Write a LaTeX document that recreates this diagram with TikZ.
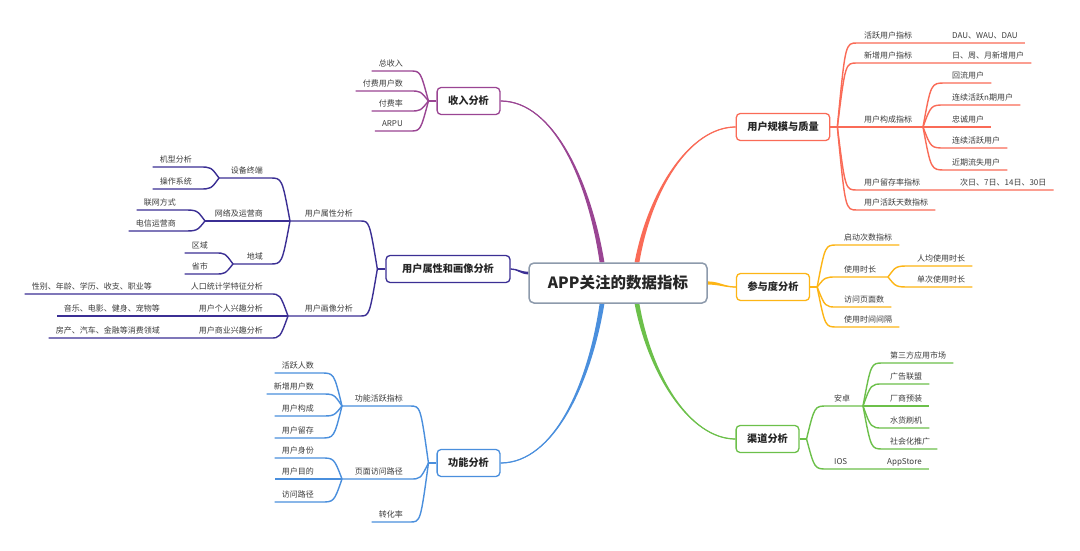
\documentclass[tikz,border=0pt]{standalone}
\usepackage{fontspec}
\setmainfont{Noto Sans CJK SC}
\usetikzlibrary{calc}
\definecolor{cR}{HTML}{FA6B57}
\definecolor{cO}{HTML}{FDB515}
\definecolor{cG}{HTML}{6CC04A}
\definecolor{cP}{HTML}{9A4593}
\definecolor{cI}{HTML}{3B2F94}
\definecolor{cB}{HTML}{4A8FDD}
\definecolor{cC}{HTML}{8D9AAC}
\definecolor{labc}{HTML}{3C3C3C}
\definecolor{topc}{HTML}{262626}
\pgfdeclarelayer{bg}
\pgfdeclarelayer{paper}
\pgfsetlayers{paper,bg,main}
\newcommand{\rlink}[4]{\draw[#1] (#2) .. controls ($(#2|-#3.south west)+(8,0)$) .. (#3.south west) -- (#4);}
\newcommand{\llink}[4]{\draw[#1] (#2) .. controls ($(#2|-#3.south east)+(-8,0)$) .. (#3.south east) -- (#4);}
% color, start, control1, control2, end, sign
\newcommand{\vtaper}[6]{%
  \fill[#1] ($(#2)+(-2.4,0)$) .. controls ($(#3)+(-1.7,0)$) and ($(#4)+(0,-0.6*#6)$) .. ($(#5)+(0,-0.6*#6)$)
    -- ($(#5)+(0,0.6*#6)$) .. controls ($(#4)+(0,0.6*#6)$) and ($(#3)+(1.7,0)$) .. ($(#2)+(2.4,0)$) -- cycle;
  \draw[#1, line width=0.8] (#2) .. controls (#3) and (#4) .. (#5);}
\begin{document}
\begin{tikzpicture}[x=1pt,y=-1pt,
  lab/.style={inner xsep=7, inner ysep=3, text height=6.5, text depth=1.5, font=\fontsize{8}{9}\selectfont, text=labc},
  rl/.style={lab, anchor=south west},
  ll/.style={lab, anchor=south east},
  topic/.style={draw, rounded corners=4, line width=1.3, fill=white, inner xsep=11, inner ysep=0, minimum height=27, font=\bfseries\fontsize{10.2}{12}\selectfont, text=topc},
  br/.style={line width=1.4}]
\begin{pgfonlayer}{paper}
\fill[white] (0,0) rectangle (1080,551);
\end{pgfonlayer}
\useasboundingbox (0,0) rectangle (1080,551);

% central and main topics
\node[draw=cC, line width=1.5, rounded corners=5, fill=white, minimum width=178, minimum height=40, font=\bfseries\fontsize{15.5}{18}\selectfont, text=topc] (C) at (618,283) {APP关注的数据指标};
\node[topic, draw=cR] (T1) at (783,127) {用户规模与质量};
\node[topic, draw=cO] (T2) at (773,287) {参与度分析};
\node[topic, draw=cG] (T3) at (767.5,439) {渠道分析};
\node[topic, draw=cP] (T4) at (468.5,101) {收入分析};
\node[topic, draw=cI, minimum width=124] (T5) at (448,269) {用户属性和画像分析};
\node[topic, draw=cB] (T6) at (468.5,463) {功能分析};

% forks
\coordinate (F1) at ($(T1.east)+(7,0)$);
\coordinate (F2) at ($(T2.east)+(7,0)$);
\coordinate (F3) at ($(T3.east)+(7,0)$);
\coordinate (F4) at ($(T4.west)+(-8,0)$);
\coordinate (F5) at ($(T5.west)+(-8,0)$);
\coordinate (F6) at ($(T6.west)+(-8,0)$);
\coordinate (F13) at (923,127);
\coordinate (F22) at (888,277);
\coordinate (F31) at (863,406);
\coordinate (F51) at (290,221);
\coordinate (F52) at (288,316);
\coordinate (F511) at (219,178);
\coordinate (F512) at (205,221);
\coordinate (F513) at (233,264);
\coordinate (F61) at (342,406);
\coordinate (F62) at (342,479);

% 用户规模与质量
\node[rl] (a11) at (857,43) {活跃用户指标};
\node[rl] (a12) at (857,63) {新增用户指标};
\node[rl] (a13) at (857,127) {用户构成指标};
\node[rl] (a14) at (857,190) {用户留存率指标};
\node[rl] (a15) at (857,210) {用户活跃天数指标};
\node[rl] (b111) at (945,43) {DAU、WAU、DAU};
\node[rl] (b121) at (945,63) {日、周、月新增用户};
\node[rl] (b131) at (945,83) {回流用户};
\node[rl] (b132) at (945,105) {连续活跃n期用户};
\node[rl] (b133) at (945,127) {忠诚用户};
\node[rl] (b134) at (945,148) {连续活跃用户};
\node[rl] (b135) at (945,170) {近期流失用户};
\node[rl] (b141) at (953,190) {次日、7日、14日、30日};

% 参与度分析
\node[rl] (a21) at (837,245) {启动次数指标};
\node[rl] (a22) at (837,277) {使用时长};
\node[rl] (a23) at (837,307) {访问页面数};
\node[rl] (a24) at (837,327) {使用时间间隔};
\node[rl] (b221) at (910,266) {人均使用时长};
\node[rl] (b222) at (910,287) {单次使用时长};

% 渠道分析
\node[rl] (a31) at (827,406) {安卓};
\node[rl] (a32) at (827,469) {IOS};
\node[rl] (b311) at (883,363) {第三方应用市场};
\node[rl] (b312) at (883,384) {广告联盟};
\node[rl] (b313) at (883,406) {厂商预装};
\node[rl] (b314) at (883,428) {水货刷机};
\node[rl] (b315) at (883,449) {社会化推广};
\node[rl] (b321) at (880,469) {AppStore};

% 收入分析
\node[ll] (a41) at (410,71) {总收入};
\node[ll] (a42) at (410,91) {付费用户数};
\node[ll] (a43) at (410,111) {付费率};
\node[ll] (a44) at (410,131) {ARPU};

% 用户属性和画像分析
\node[ll] (a51) at (360,221) {用户属性分析};
\node[ll] (a52) at (360,316) {用户画像分析};
\node[ll] (b511) at (270,178) {设备终端};
\node[ll] (b512) at (270,221) {网络及运营商};
\node[ll] (b513) at (270,264) {地域};
\node[ll] (c5111) at (199,167) {机型分析};
\node[ll] (c5112) at (199,189) {操作系统};
\node[ll] (c5121) at (183,210) {联网方式};
\node[ll] (c5122) at (183,231) {电信运营商};
\node[ll] (c5131) at (215,253) {区域};
\node[ll] (c5132) at (215,274) {省市};
\node[ll] (b521) at (270,294) {人口统计学特征分析};
\node[ll] (b522) at (270,316) {用户个人兴趣分析};
\node[ll] (b523) at (270,338) {用户商业兴趣分析};
\node[ll] (c5211) at (159,294) {性别、年龄、学历、收支、职业等};
\node[ll] (c5221) at (167,316) {音乐、电影、健身、宠物等};
\node[ll] (c5231) at (167,338) {房产、汽车、金融等消费领域};

% 功能分析
\node[ll] (a61) at (410,406) {功能活跃指标};
\node[ll] (a62) at (410,479) {页面访问路径};
\node[ll] (a63) at (410,522) {转化率};
\node[ll] (b611) at (321,373) {活跃人数};
\node[ll] (b612) at (321,394) {新增用户数};
\node[ll] (b613) at (321,416) {用户构成};
\node[ll] (b614) at (321,438) {用户留存};
\node[ll] (b621) at (321,458) {用户身份};
\node[ll] (b622) at (321,479) {用户目的};
\node[ll] (b623) at (321,502) {访问路径};

\begin{pgfonlayer}{bg}
% main tapered branches
\coordinate (S1) at ($(C.north)+(19,0)$);
\coordinate (S4) at ($(C.north)+(-16,0)$);
\coordinate (S6) at ($(C.south)+(-16,0)$);
\coordinate (S3) at ($(C.south)+(19,0)$);
\vtaper{cR}{S1}{650,190}{690,127}{T1.west}{1}
\vtaper{cP}{S4}{590,185}{555,101}{T4.east}{-1}
\vtaper{cB}{S6}{590,381}{555,463}{T6.east}{1}
\vtaper{cG}{S3}{650,375}{690,439}{T3.west}{-1}
\fill[cO] ($(C.east)+(0,-1.6)$) .. controls (720,281.6) and (724,286.5) .. ($(T2.west)+(0,-0.6)$) -- ($(T2.west)+(0,0.6)$) .. controls (724,287.5) and (720,284.6) .. ($(C.east)+(0,1.6)$) -- cycle;
\draw[cO, line width=0.8] (C.east) .. controls (720,283) and (724,287) .. (T2.west);
\fill[cI] ($(C.west)+(0,-11.4)$) .. controls (520,271.8) and (518,268.4) .. ($(T5.east)+(0,-0.6)$) -- ($(T5.east)+(0,0.6)$) .. controls (518,269.6) and (520,274.2) .. ($(C.west)+(0,-8.6)$) -- cycle;
\draw[cI, line width=0.8] ($(C.west)+(0,-10)$) .. controls (520,273) and (518,269) .. (T5.east);

% 用户规模与质量
\draw[br,cR] (T1.east) -- (F1);
\rlink{br,cR}{F1}{a11}{b111.south east}
\rlink{br,cR}{F1}{a12}{b121.south east}
\rlink{br,cR}{F1}{a13}{F13}
\rlink{br,cR}{F1}{a14}{b141.south east}
\rlink{br,cR}{F1}{a15}{a15.south east}
\rlink{br,cR}{F13}{b131}{b131.south east}
\rlink{br,cR}{F13}{b132}{b132.south east}
\rlink{br,cR}{F13}{b133}{b133.south east}
\rlink{br,cR}{F13}{b134}{b134.south east}
\rlink{br,cR}{F13}{b135}{b135.south east}

% 参与度分析
\draw[br,cO] (T2.east) -- (F2);
\rlink{br,cO}{F2}{a21}{a21.south east}
\rlink{br,cO}{F2}{a22}{F22}
\rlink{br,cO}{F2}{a23}{a23.south east}
\rlink{br,cO}{F2}{a24}{a24.south east}
\rlink{br,cO}{F22}{b221}{b221.south east}
\rlink{br,cO}{F22}{b222}{b222.south east}

% 渠道分析
\draw[br,cG] (T3.east) -- (F3);
\rlink{br,cG}{F3}{a31}{F31}
\rlink{br,cG}{F3}{a32}{b321.south east}
\rlink{br,cG}{F31}{b311}{b311.south east}
\rlink{br,cG}{F31}{b312}{b312.south east}
\rlink{br,cG}{F31}{b313}{b313.south east}
\rlink{br,cG}{F31}{b314}{b314.south east}
\rlink{br,cG}{F31}{b315}{b315.south east}

% 收入分析
\draw[br,cP] (T4.west) -- (F4);
\llink{br,cP}{F4}{a41}{a41.south west}
\llink{br,cP}{F4}{a42}{a42.south west}
\llink{br,cP}{F4}{a43}{a43.south west}
\llink{br,cP}{F4}{a44}{a44.south west}

% 用户属性和画像分析
\draw[br,cI] (T5.west) -- (F5);
\llink{br,cI}{F5}{a51}{F51}
\llink{br,cI}{F5}{a52}{F52}
\llink{br,cI}{F51}{b511}{F511}
\llink{br,cI}{F51}{b512}{F512}
\llink{br,cI}{F51}{b513}{F513}
\llink{br,cI}{F511}{c5111}{c5111.south west}
\llink{br,cI}{F511}{c5112}{c5112.south west}
\llink{br,cI}{F512}{c5121}{c5121.south west}
\llink{br,cI}{F512}{c5122}{c5122.south west}
\llink{br,cI}{F513}{c5131}{c5131.south west}
\llink{br,cI}{F513}{c5132}{c5132.south west}
\llink{br,cI}{F52}{b521}{c5211.south west}
\llink{br,cI}{F52}{b522}{c5221.south west}
\llink{br,cI}{F52}{b523}{c5231.south west}

% 功能分析
\draw[br,cB] (T6.west) -- (F6);
\llink{br,cB}{F6}{a61}{F61}
\llink{br,cB}{F6}{a62}{F62}
\llink{br,cB}{F6}{a63}{a63.south west}
\llink{br,cB}{F61}{b611}{b611.south west}
\llink{br,cB}{F61}{b612}{b612.south west}
\llink{br,cB}{F61}{b613}{b613.south west}
\llink{br,cB}{F61}{b614}{b614.south west}
\llink{br,cB}{F62}{b621}{b621.south west}
\llink{br,cB}{F62}{b622}{b622.south west}
\llink{br,cB}{F62}{b623}{b623.south west}
\end{pgfonlayer}
\end{tikzpicture}
\end{document}
